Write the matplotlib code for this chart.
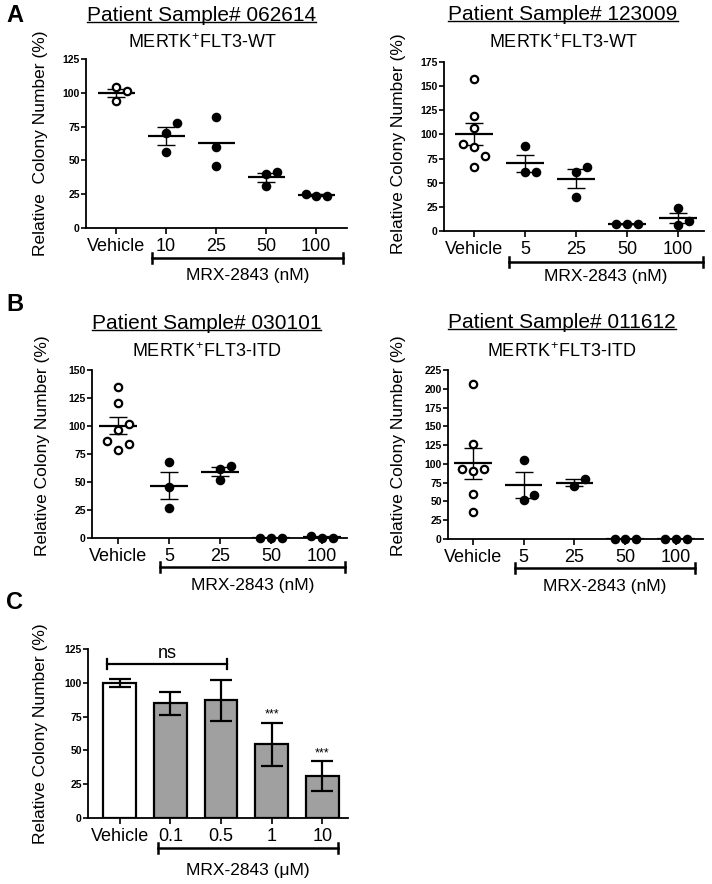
import numpy as np
import matplotlib
matplotlib.use('Agg')
from matplotlib import pyplot as plt
from matplotlib.lines import Line2D

plt.rcParams['font.family'] = ['Liberation Sans', 'DejaVu Sans']
plt.rcParams['mathtext.fontset'] = 'custom'
plt.rcParams['mathtext.rm'] = 'Liberation Sans'
plt.rcParams['mathtext.it'] = 'Liberation Sans:italic'
plt.rcParams['mathtext.bf'] = 'Liberation Sans:bold'

# ---- data ----
a1_labels = ['Vehicle', '10', '25', '50', '100']
a1_groups = [[104, 101, 94], [78, 70, 56], [82, 60, 46],
             [41.7, 40.2, 30.8], [25.4, 23.9, 23.9]]
a1_show_sem = [True, True, False, True, True]

a2_labels = ['Vehicle', '5', '25', '50', '100']
a2_groups = [[157.7, 118.7, 106.7, 89.7, 87, 77.3, 66.3], [87.7, 61.4, 61.4],
             [66.3, 61.4, 35.2], [7.6, 7.6, 7.6], [24.2, 10.4, 5.9]]

b1_labels = ['Vehicle', '5', '25', '50', '100']
b1_groups = [[134.5, 120.3, 101.9, 96.5, 87, 84, 78.7], [68.3, 45.4, 26.7],
             [64.4, 61.5, 51.4], [0, 0, 0], [1.5, 0, 0]]

b2_labels = ['Vehicle', '5', '25', '50', '100']
b2_groups = [[206.4, 126.7, 93, 89.9, 93, 59.8, 35.4], [105.4, 51.4, 58.9],
             [79.7, 70], [0, 0, 0], [0, 0, 0]]

c_labels = ['Vehicle', '0.1', '0.5', '1', '10']
c_means = [100, 85, 87, 54.5, 31]
c_errs = [3, 8.5, 15, 16, 11]
c_sig = ['', '', '', '***', '***']

FS = 12.5
fig = plt.figure(figsize=(7.12, 8.84), dpi=100)


def style_axes(ax, labels, ymax, xlim, ylab_pos):
    ax.set_xlim(*xlim)
    ax.set_ylim(0, ymax)
    ax.set_yticks(np.arange(0, ymax + 1, 25))
    ax.set_xticks(range(len(labels)))
    ax.set_xticklabels(labels)
    for s in ['top', 'right']:
        ax.spines[s].set_visible(False)
    for s in ['left', 'bottom']:
        ax.spines[s].set_linewidth(1.3)
    ax.tick_params(axis='y', direction='out', length=3.5, width=1.2,
                   pad=1, labelsize=7.5)
    ax.tick_params(axis='x', direction='out', length=4, width=1.2,
                   pad=3, labelsize=13)
    for lbl in ax.get_yticklabels():
        lbl.set_fontweight('bold')
    ax.set_ylabel('Relative Colony Number (%)', fontsize=FS)
    ax.yaxis.set_label_coords(*ylab_pos)


def swarm(vals, px_per_unit, min_px=11.0, step=0.21):
    # simple beeswarm: stack overlapping points side by side
    vals = np.asarray(vals, dtype=float)
    offs = np.zeros(len(vals))
    placed = []
    side = 1
    for k in np.argsort(vals, kind='stable'):
        y = vals[k] * px_per_unit
        for c in [0, side, -side, 2 * side, -2 * side, 3 * side, -3 * side]:
            if all(np.hypot((c - pc) * min_px, y - py) >= min_px - 1e-6
                   for pc, py in placed):
                break
        if c != 0:
            side = -int(np.sign(c))
        placed.append((c, y))
        offs[k] = c * step
    return offs


def dose_bracket(ax, x0, x1, y, label, label_y):
    tr = ax.get_xaxis_transform()
    ax.plot([x0, x1], [y, y], transform=tr, clip_on=False, color='k', lw=1.8)
    for xx in (x0, x1):
        ax.plot([xx, xx], [y - 0.03, y + 0.03], transform=tr, clip_on=False,
                color='k', lw=1.8)
    ax.text((x0 + x1) / 2, label_y, label, transform=tr, ha='center',
            va='center', fontsize=FS)


def dot_panel(pos, groups, labels, ymax, xlim, ylab_pos, title, subtitle,
              title_x, title_y, sub_y, bracket, show_sem=None):
    ax = fig.add_axes(pos)
    style_axes(ax, labels, ymax, xlim, ylab_pos)
    px_per_unit = pos[3] * 884 / ymax
    for i, vals in enumerate(groups):
        vals = np.asarray(vals, dtype=float)
        xs = i + swarm(vals, px_per_unit)
        face = 'white' if i == 0 else 'k'
        ax.plot(xs, vals, 'o', ms=5.3, mfc=face, mec='k', mew=1.6,
                clip_on=False, zorder=4)
        mean = vals.mean()
        sem = vals.std(ddof=1) / np.sqrt(len(vals))
        ax.hlines(mean, i - 0.37, i + 0.37, color='k', lw=1.6, zorder=3)
        if show_sem is None or show_sem[i]:
            ax.errorbar(i, mean, yerr=sem, fmt='none', ecolor='k',
                        elinewidth=1.0, capsize=6.5, capthick=1.0, zorder=3)
    t = ax.text(title_x, title_y, title, transform=ax.transAxes,
                ha='center', va='center', fontsize=15)
    ax.text(title_x, sub_y, subtitle, transform=ax.transAxes,
            ha='center', va='center', fontsize=13)
    dose_bracket(ax, *bracket)
    return ax, t


titles = []
ax, t = dot_panel([0.1208, 0.7421, 0.3666, 0.1912], a1_groups, a1_labels, 125,
                  (-0.6, 4.62), (-0.146, 0.485), 'Patient Sample# 062614',
                  'MERTK$^{+}$FLT3-WT', 0.444, 1.26, 1.095,
                  (0.72, 4.54, -0.178, 'MRX-2843 (nM)', -0.284),
                  show_sem=a1_show_sem)
ax.set_ylabel('Relative  Colony Number (%)', fontsize=FS)
titles.append(t)
ax, t = dot_panel([0.6236, 0.7387, 0.3652, 0.1912], a2_groups, a2_labels, 175,
                  (-0.59, 4.51), (-0.146, 0.515), 'Patient Sample# 123009',
                  'MERTK$^{+}$FLT3-WT', 0.458, 1.278, 1.112,
                  (0.69, 4.49, -0.183, 'MRX-2843 (nM)', -0.27))
titles.append(t)
ax, t = dot_panel([0.1292, 0.3914, 0.3581, 0.19], b1_groups, b1_labels, 150,
                  (-0.51, 4.49), (-0.165, 0.55), 'Patient Sample# 030101',
                  'MERTK$^{+}$FLT3-ITD', 0.45, 1.28, 1.107,
                  (0.82, 4.45, -0.173, 'MRX-2843 (nM)', -0.28))
titles.append(t)
ax, t = dot_panel([0.6292, 0.3903, 0.3581, 0.1912], b2_groups, b2_labels, 225,
                  (-0.49, 4.53), (-0.165, 0.55), 'Patient Sample# 011612',
                  'MERTK$^{+}$FLT3-ITD', 0.447, 1.278, 1.106,
                  (0.83, 4.37, -0.173, 'MRX-2843 (nM)', -0.28))
titles.append(t)

# ---- panel C: bar chart ----
axc = fig.add_axes([0.1236, 0.0747, 0.3652, 0.1912])
style_axes(axc, c_labels, 125, (-0.63, 4.51), (-0.154, 0.5))
x = np.arange(len(c_means))
colors = ['white'] + ['#a0a0a0'] * (len(c_means) - 1)
axc.bar(x, c_means, width=0.65, color=colors, edgecolor='k', linewidth=1.6,
        zorder=2)
axc.errorbar(x, c_means, yerr=c_errs, fmt='none', ecolor='k', elinewidth=1.6,
             capsize=8, capthick=1.6, zorder=3)
for xi, m, e, s in zip(x, c_means, c_errs, c_sig):
    if s:
        axc.text(xi, m + e + 1.5, s, ha='center', va='bottom', fontsize=9)
# ns comparison bracket
axc.plot([-0.26, 2.12], [114, 114], color='k', lw=1.6, clip_on=False)
for xx in (-0.26, 2.12):
    axc.plot([xx, xx], [110.3, 117.7], color='k', lw=1.6, clip_on=False)
axc.text(0.93, 115.5, 'ns', ha='center', va='bottom', fontsize=13)
dose_bracket(axc, 0.75, 4.32, -0.178, 'MRX-2843 (\u03bcM)', -0.308)

# panel letters
for letter, yy in [('A', 0.983), ('B', 0.655), ('C', 0.318)]:
    fig.text(0.021, yy, letter, ha='center', va='center', fontsize=17,
             fontweight='heavy')

# underline the titles
fig.canvas.draw()
renderer = fig.canvas.get_renderer()
inv = fig.transFigure.inverted()
for t in titles:
    bb = t.get_window_extent(renderer)
    (fx0, fy), = inv.transform([(bb.x0, bb.y0 + 3)])
    (fx1, _), = inv.transform([(bb.x1, bb.y0 + 3)])
    fig.add_artist(Line2D([fx0, fx1], [fy, fy], transform=fig.transFigure,
                          color='k', lw=1.0))

fig.savefig('out.png', dpi=100)
